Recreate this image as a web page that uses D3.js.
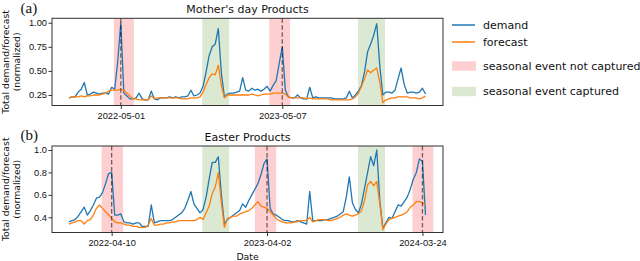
<!DOCTYPE html>
<html lang="en">
<head>
<meta charset="UTF-8">
<title>Seasonal products: demand vs forecast</title>
<script src="https://d3js.org/d3.v7.min.js"></script>
<style>
  body { margin: 0; background: #fff; }
  svg { display: block; font-family: "DejaVu Sans", sans-serif; }
  .line { fill: none; stroke-width: 1.3; stroke-linejoin: round; }
  .line.demand { stroke: #1f77b4; }
  .line.forecast { stroke: #ff7f0e; }
  .span.missed { fill: #fdcfd0; }
  .span.caught { fill: #dce9d2; }
  .event { stroke: #000; stroke-opacity: 0.55; stroke-width: 1.3; stroke-dasharray: 4.5 2.5; }
  .frame { fill: none; stroke: #333; stroke-width: 1; }
  .tick line { stroke: #333; }
  .tick text { font-size: 9.3px; fill: #111; }
  .label { font-size: 9.3px; fill: #111; }
  .title { font-size: 11px; fill: #111; }
  .panel-tag { font-family: "Liberation Serif", serif; font-size: 15px; fill: #111; }
  .legend text { font-size: 11px; fill: #111; }
</style>
</head>
<body>
<svg id="chart" width="640" height="261"></svg>

<script>
    // weekly series, first week starting on this sunday
    const firstWeek = "2022-01-02";

    const mothersDemand = [
        0.22, 0.23, 0.23, 0.28, 0.31, 0.38, 0.25, 0.26, 0.28, 0.27,
        0.26, 0.27, 0.27, 0.26, 0.33, 0.31, 0.60, 1.00, 0.27, 0.24,
        0.21, 0.21, 0.22, 0.27, 0.21, 0.20, 0.20, 0.29, 0.21, 0.20,
        0.22, 0.22, 0.22, 0.23, 0.22, 0.23, 0.22, 0.23, 0.23, 0.24,
        0.30, 0.24, 0.25, 0.27, 0.34, 0.49, 0.66, 0.75, 0.78, 0.94,
        0.48, 0.23, 0.26, 0.27, 0.27, 0.28, 0.29, 0.43, 0.30, 0.29,
        0.32, 0.30, 0.31, 0.29, 0.31, 0.34, 0.29, 0.35, 0.40, 0.58,
        0.75, 0.30, 0.23, 0.22, 0.22, 0.25, 0.22, 0.21, 0.21, 0.33,
        0.22, 0.23, 0.22, 0.22, 0.22, 0.22, 0.22, 0.21, 0.21, 0.21,
        0.21, 0.22, 0.29, 0.22, 0.25, 0.29, 0.35, 0.49, 0.70, 0.78,
        0.87, 0.99, 0.55, 0.25, 0.28, 0.28, 0.27, 0.30, 0.42, 0.53,
        0.36, 0.27, 0.28, 0.28, 0.27, 0.28, 0.32, 0.26
    ];
    const mothersForecast = [
        0.22, 0.23, 0.23, 0.23, 0.24, 0.23, 0.24, 0.24, 0.25, 0.25,
        0.25, 0.26, 0.27, 0.29, 0.30, 0.30, 0.30, 0.31, 0.30, 0.27,
        0.24, 0.21, 0.21, 0.20, 0.20, 0.20, 0.20, 0.24, 0.21, 0.22,
        0.22, 0.22, 0.22, 0.22, 0.22, 0.22, 0.22, 0.21, 0.21, 0.21,
        0.22, 0.22, 0.22, 0.23, 0.28, 0.36, 0.43, 0.47, 0.46, 0.56,
        0.35, 0.22, 0.25, 0.25, 0.25, 0.25, 0.25, 0.25, 0.25, 0.25,
        0.26, 0.25, 0.24, 0.25, 0.26, 0.26, 0.26, 0.27, 0.27, 0.27,
        0.27, 0.26, 0.23, 0.22, 0.22, 0.22, 0.22, 0.22, 0.21, 0.22,
        0.21, 0.21, 0.21, 0.21, 0.21, 0.21, 0.20, 0.20, 0.20, 0.20,
        0.20, 0.20, 0.20, 0.21, 0.23, 0.27, 0.34, 0.42, 0.51, 0.48,
        0.51, 0.53, 0.38, 0.17, 0.20, 0.21, 0.22, 0.22, 0.23, 0.23,
        0.23, 0.23, 0.22, 0.22, 0.22, 0.21, 0.22, 0.24
    ];
    const easterDemand = [
        0.36, 0.37, 0.38, 0.41, 0.45, 0.49, 0.42, 0.46, 0.51, 0.57,
        0.58, 0.62, 0.70, 0.79, 0.80, 0.42, 0.42, 0.43, 0.36, 0.35,
        0.35, 0.34, 0.35, 0.35, 0.32, 0.32, 0.32, 0.51, 0.35, 0.36,
        0.37, 0.37, 0.37, 0.37, 0.38, 0.40, 0.42, 0.44, 0.48, 0.55,
        0.63, 0.52, 0.48, 0.44, 0.47, 0.58, 0.74, 0.89, 0.89, 0.94,
        0.60, 0.34, 0.38, 0.40, 0.42, 0.44, 0.46, 0.52, 0.49, 0.55,
        0.60, 0.65, 0.70, 0.78, 0.88, 0.92, 0.48, 0.43, 0.42, 0.40,
        0.38, 0.37, 0.37, 0.36, 0.36, 0.37, 0.36, 0.35, 0.34, 0.63,
        0.37, 0.37, 0.37, 0.37, 0.38, 0.38, 0.39, 0.40, 0.41, 0.43,
        0.45, 0.58, 0.76, 0.53, 0.47, 0.44, 0.52, 0.66, 0.80, 0.94,
        0.86, 1.00, 0.55, 0.30, 0.35, 0.40, 0.39, 0.45, 0.51, 0.50,
        0.54, 0.58, 0.65, 0.74, 0.80, 0.92, 0.90, 0.42
    ];
    const easterForecast = [
        0.34, 0.35, 0.36, 0.37, 0.37, 0.34, 0.37, 0.38, 0.42, 0.48,
        0.51, 0.48, 0.45, 0.42, 0.39, 0.36, 0.35, 0.35, 0.34, 0.33,
        0.33, 0.32, 0.32, 0.31, 0.31, 0.31, 0.33, 0.39, 0.33, 0.33,
        0.34, 0.34, 0.35, 0.35, 0.36, 0.36, 0.37, 0.37, 0.37, 0.37,
        0.37, 0.37, 0.38, 0.40, 0.38, 0.44, 0.50, 0.61, 0.67, 0.80,
        0.53, 0.31, 0.39, 0.40, 0.41, 0.41, 0.43, 0.44, 0.45, 0.46,
        0.48, 0.51, 0.54, 0.50, 0.49, 0.48, 0.45, 0.42, 0.39, 0.37,
        0.36, 0.35, 0.35, 0.35, 0.36, 0.36, 0.37, 0.37, 0.37, 0.40,
        0.36, 0.37, 0.38, 0.38, 0.38, 0.37, 0.37, 0.38, 0.39, 0.40,
        0.42, 0.43, 0.42, 0.41, 0.42, 0.43, 0.46, 0.55, 0.69, 0.72,
        0.68, 0.72, 0.52, 0.29, 0.34, 0.38, 0.39, 0.40, 0.41, 0.42,
        0.43, 0.45, 0.49, 0.51, 0.54, 0.54, 0.53, 0.51
    ];

    // event dates (dashed lines + x tick labels)
    const mothersEvents = ["2022-05-01", "2023-05-07"];
    const easterEvents = ["2022-04-10", "2023-04-02", "2024-03-24"];

    // shaded windows [start, end]
    const mothersMissed = [["2022-04-15", "2022-05-31"], ["2023-04-07", "2023-05-25"]];
    const mothersCaught = [["2022-11-04", "2023-01-05"], ["2023-10-28", "2023-12-29"]];
    const easterMissed = [["2022-03-18", "2022-05-06"], ["2023-03-05", "2023-04-23"], ["2024-03-01", "2024-04-18"]];
    const easterCaught = [["2022-11-04", "2023-01-05"], ["2023-10-28", "2023-12-29"]];

    const mothersTicks = [0.25, 0.50, 0.75, 1.00];
    const easterTicks = [0.4, 0.6, 0.8, 1.0];

    const legendItems = ["demand", "forecast", "seasonal event not captured", "seasonal event captured"];

    const parse = d3.utcParse("%Y-%m-%d");
    const fmt = d3.utcFormat("%Y-%m-%d");
    const start = parse(firstWeek);
    const weeks = mothersDemand.map((_, i) => d3.utcDay.offset(start, 7 * i));

    const svg = d3.select("#chart");
    const left = 52, right = 443;

    const xScale = d3.scaleUtc()
        .domain(d3.extent(weeks))
        .range([69, 425.5]);

    const panels = [
        { tag: "(a)", title: "Mother's day Products", top: 18.3, bottom: 105.5,
          yDomain: [0.141, 1.046], ticks: mothersTicks, tickFmt: d3.format(".2f"),
          demand: mothersDemand, forecast: mothersForecast,
          missed: mothersMissed, caught: mothersCaught, events: mothersEvents, xlabel: false },
        { tag: "(b)", title: "Easter Products", top: 146, bottom: 232.5,
          yDomain: [0.2645, 1.0357], ticks: easterTicks, tickFmt: d3.format(".1f"),
          demand: easterDemand, forecast: easterForecast,
          missed: easterMissed, caught: easterCaught, events: easterEvents, xlabel: true }
    ];

    panels.forEach(p => {
        const yScale = d3.scaleLinear().domain(p.yDomain).range([p.bottom, p.top]);
        const g = svg.append("g");

        // shaded windows
        g.selectAll(".span.missed").data(p.missed).enter().append("rect")
            .attr("class", "span missed")
            .attr("x", d => xScale(parse(d[0])))
            .attr("width", d => xScale(parse(d[1])) - xScale(parse(d[0])))
            .attr("y", p.top).attr("height", p.bottom - p.top);
        g.selectAll(".span.caught").data(p.caught).enter().append("rect")
            .attr("class", "span caught")
            .attr("x", d => xScale(parse(d[0])))
            .attr("width", d => xScale(parse(d[1])) - xScale(parse(d[0])))
            .attr("y", p.top).attr("height", p.bottom - p.top);

        const line = vals => d3.line()
            .x((d, i) => xScale(weeks[i]))
            .y(d => yScale(d))(vals);

        g.append("path").attr("class", "line demand").attr("d", line(p.demand));
        g.append("path").attr("class", "line forecast").attr("d", line(p.forecast));

        // dashed event markers
        g.selectAll(".event").data(p.events).enter().append("line")
            .attr("class", "event")
            .attr("x1", d => xScale(parse(d))).attr("x2", d => xScale(parse(d)))
            .attr("y1", p.top).attr("y2", p.bottom);

        // axes
        const yAxis = g.append("g")
            .attr("transform", `translate(${left},0)`)
            .call(d3.axisLeft(yScale).tickValues(p.ticks).tickFormat(p.tickFmt)
                .tickSize(3.5).tickPadding(1.5));
        yAxis.select(".domain").remove();

        const xAxis = g.append("g")
            .attr("transform", `translate(0,${p.bottom})`)
            .call(d3.axisBottom(xScale).tickValues(p.events.map(parse)).tickFormat(fmt)
                .tickSize(3.5).tickPadding(3.5));
        xAxis.select(".domain").remove();

        g.append("rect").attr("class", "frame")
            .attr("x", left).attr("y", p.top)
            .attr("width", right - left).attr("height", p.bottom - p.top);

        const cy = (p.top + p.bottom) / 2;
        g.append("text").attr("class", "label")
            .attr("transform", `translate(8.5,${cy}) rotate(-90)`)
            .attr("text-anchor", "middle").text("Total demand/forecast");
        g.append("text").attr("class", "label")
            .attr("transform", `translate(19.5,${cy}) rotate(-90)`)
            .attr("text-anchor", "middle").text("(normalized)");

        g.append("text").attr("class", "title")
            .attr("x", (left + right) / 2).attr("y", p.top - 5.3)
            .attr("text-anchor", "middle").text(p.title);

        g.append("text").attr("class", "panel-tag")
            .attr("x", 20.5).attr("y", p.top - 5.8).text(p.tag);

        if (p.xlabel) {
            g.append("text").attr("class", "label")
                .attr("x", (left + right) / 2).attr("y", 260)
                .attr("text-anchor", "middle").text("Date");
        }
    });

    // legend
    const legend = svg.append("g").attr("class", "legend").attr("transform", "translate(452,0)");
    const rowY = [25, 42, 66, 91.5];
    legendItems.forEach((name, i) => {
        if (i < 2) {
            legend.append("line")
                .attr("class", i === 0 ? "line demand" : "line forecast")
                .attr("x1", 0).attr("x2", 23).attr("y1", rowY[i]).attr("y2", rowY[i])
                .style("stroke-width", 1.5);
        } else {
            legend.append("rect")
                .attr("class", i === 2 ? "span missed" : "span caught")
                .attr("x", 0).attr("width", 24).attr("y", rowY[i] - 4.7).attr("height", 9.4);
        }
        legend.append("text").attr("x", 31).attr("y", rowY[i]).attr("dy", "0.36em").text(name);
    });
</script>
</body>
</html>
